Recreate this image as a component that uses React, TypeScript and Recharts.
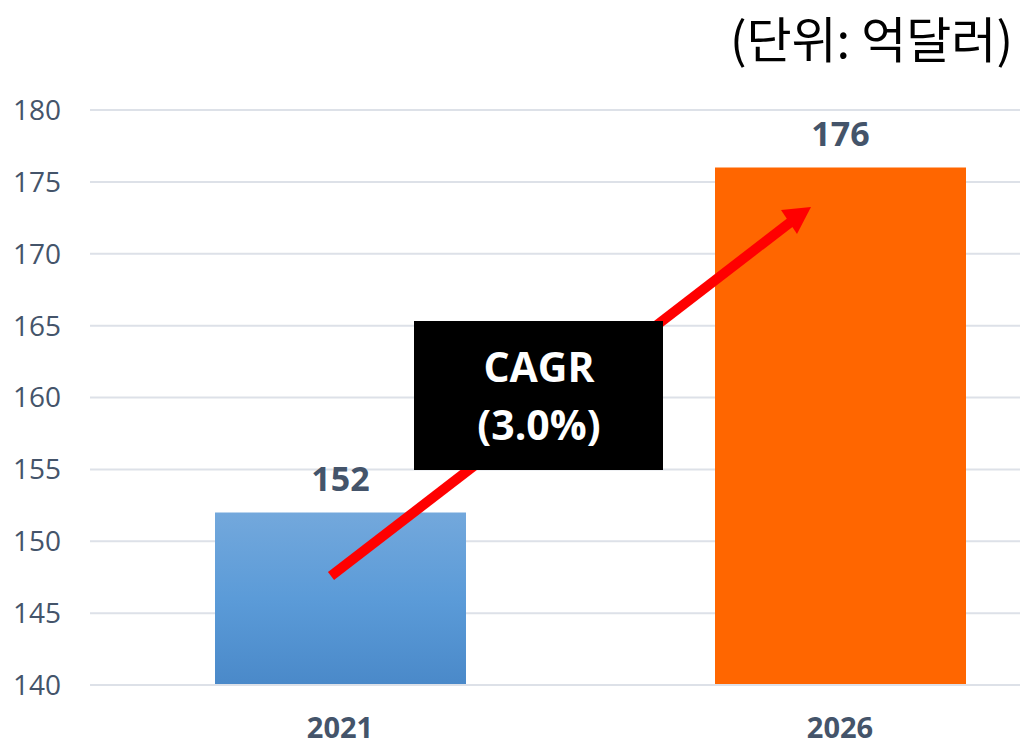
import { BarChart, Bar, XAxis, YAxis, CartesianGrid, Cell, LabelList } from "recharts";

const YEARS = ["2021", "2026"];
const VALUES = [152, 176];
const Y_TICKS = [140, 145, 150, 155, 160, 165, 170, 175, 180];
const BAR_FILLS = ["url(#blueGrad)", "#ff6600"];
const UNIT_LABEL = "(단위: 억달러)";
const CAGR_LINES = ["CAGR", "(3.0%)"];

const TEXT = "#44546a";
const FONT = "'Open Sans', 'Noto Sans', sans-serif";

const rows = YEARS.map((year, i) => ({ year, value: VALUES[i] }));

function YearTick(props: any) {
  const { x, y, payload } = props;
  return (
    <text x={x} y={y + 53} textAnchor="middle" fill={TEXT} fontFamily={FONT} fontWeight={700} fontSize={29}>
      {payload.value}
    </text>
  );
}

export default function App() {
  return (
    <div style={{ position: "absolute", left: 0, top: 0, width: 1020, height: 746, overflow: "hidden", background: "#fff" }}>
      <BarChart width={1100} height={746} data={rows} margin={{ top: 110, right: 10, bottom: 31, left: 0 }}>
        <defs>
          <linearGradient id="blueGrad" x1="0" y1="0" x2="0" y2="1">
            <stop offset="0%" stopColor="#73a8dc" />
            <stop offset="50%" stopColor="#5b9bd8" />
            <stop offset="100%" stopColor="#4a89c9" />
          </linearGradient>
        </defs>
        <CartesianGrid vertical={false} stroke="#dde1e8" strokeWidth={2} />
        <XAxis
          dataKey="year"
          height={30}
          axisLine={{ stroke: "#dde1e8", strokeWidth: 2 }}
          tickLine={false}
          tickSize={0}
          tickMargin={0}
          tick={<YearTick />}
        />
        <YAxis
          width={90}
          domain={[140, 180]}
          ticks={Y_TICKS}
          allowDataOverflow
          axisLine={false}
          tickLine={false}
          tickSize={0}
          tickMargin={29}
          tick={{ fill: TEXT, fontSize: 28, fontFamily: FONT }}
        />
        <Bar dataKey="value" barSize={251} isAnimationActive={false}>
          {rows.map((r, i) => (
            <Cell key={r.year} fill={BAR_FILLS[i]} />
          ))}
          <LabelList
            dataKey="value"
            position="top"
            offset={22}
            fill={TEXT}
            fontFamily={FONT}
            fontWeight={700}
            fontSize={34}
          />
        </Bar>
      </BarChart>
      <svg width={1020} height={746} style={{ position: "absolute", left: 0, top: 0, pointerEvents: "none" }}>
        <line x1={331} y1={576} x2={792} y2={221} stroke="#ff0000" strokeWidth={10} />
        <polygon points="811,207 781,210 797,234" fill="#ff0000" />
        <rect x={414} y={321} width={249} height={149} fill="#000" />
        <text x={539} y={382} textAnchor="middle" fill="#fff" fontFamily={FONT} fontWeight={700} fontSize={41}>
          {CAGR_LINES[0]}
        </text>
        <text x={539} y={440} textAnchor="middle" fill="#fff" fontFamily={FONT} fontWeight={700} fontSize={41}>
          {CAGR_LINES[1]}
        </text>
        <text x={1013} y={58} textAnchor="end" fill="#000" fontFamily="'Noto Sans CJK KR', sans-serif" fontSize={49}>
          {UNIT_LABEL}
        </text>
      </svg>
    </div>
  );
}
